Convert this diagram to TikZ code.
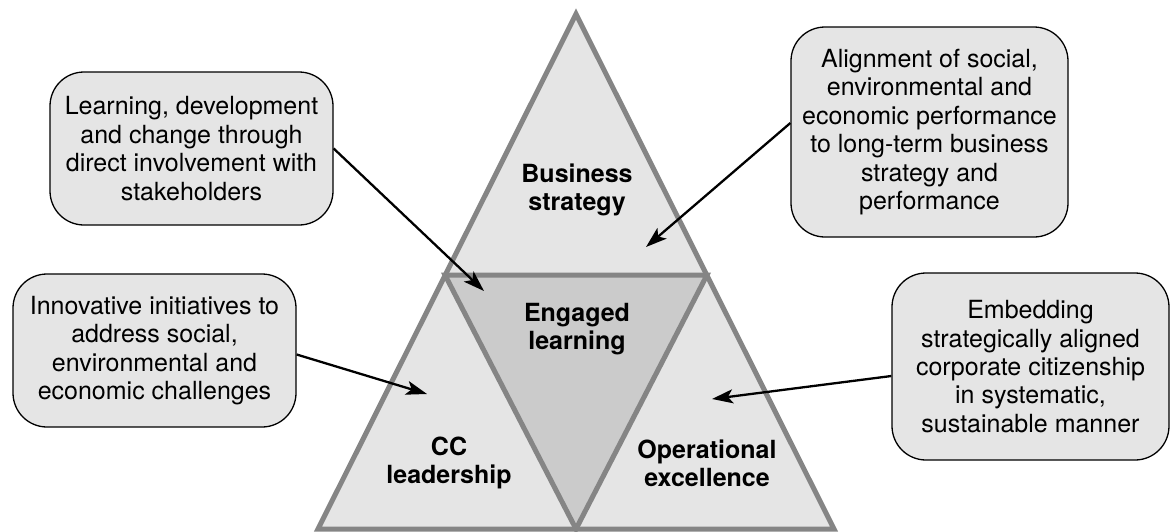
\documentclass[tikz,border=0pt]{standalone}
\usepackage{fontspec}
\setmainfont{TeX Gyre Heros}
\usetikzlibrary{arrows.meta}
\definecolor{panel}{HTML}{E5E5E5}
\definecolor{core}{HTML}{CBCBCB}
\definecolor{edge}{HTML}{858585}
\begin{document}
\begin{tikzpicture}[x=1pt,y=-1pt,
  note/.style={draw=black, line width=1.3pt, fill=panel, rounded corners=34pt,
    align=center, inner sep=0pt, font=\fontsize{25}{28.4}\selectfont},
  zone/.style={align=center, inner sep=0pt, font=\fontsize{25}{28.4}\selectfont\bfseries},
  facet/.style={draw=edge, line width=5pt, line join=miter},
  link/.style={draw=black, line width=2.3pt, -{Stealth[length=21pt, width=14pt, inset=5pt]}}]
\useasboundingbox (0,0) rectangle (1171,531);

% outer pyramid and the inverted core triangle
\coordinate (apex) at (576,14);
\coordinate (bl) at (318,529);
\coordinate (br) at (834,529);
\coordinate (ml) at (445,275);
\coordinate (mr) at (707,275);
\coordinate (mb) at (576,529);
\filldraw[facet, fill=panel] (apex) -- (br) -- (bl) -- cycle;
\filldraw[facet, fill=core] (ml) -- (mr) -- (mb) -- cycle;

% segment labels
\node[zone] (biz) at (577,190) {Business\\strategy};
\node[zone] (eng) at (577,329) {Engaged\\learning};
\node[zone] (ccl) at (449,463) {CC\\leadership};
\node[zone] (opx) at (707,463) {Operational\\excellence};

% explanatory notes
\node[note, minimum width=283pt, minimum height=153pt] (n1) at (191.5,148.5)
  {Learning, development\\and change through\\direct involvement with\\stakeholders};
\node[note, minimum width=283pt, minimum height=153pt] (n2) at (154.5,350.5)
  {Innovative initiatives to\\address social,\\environmental and\\economic challenges};
\node[note, minimum width=277pt, minimum height=210pt] (n3) at (929.5,132)
  {Alignment of social,\\environmental and\\economic performance\\to long-term business\\strategy and\\performance};
\node[note, minimum width=277pt, minimum height=187pt] (n4) at (1030.5,366.5)
  {Embedding\\strategically aligned\\corporate citizenship\\in systematic,\\sustainable manner};

% arrow targets inside the pyramid
\coordinate (t1) at (484,291);
\coordinate (t2) at (646,247);
\coordinate (t3) at (427,394);
\coordinate (t4) at (712,399);

\draw[link] (n1.east) -- (t1);
\draw[link] ([yshift=-4pt]n2.east) -- (t3);
\draw[link] ([yshift=9pt]n3.west) -- (t2);
\draw[link] ([yshift=-9.5pt]n4.west) -- (t4);
\end{tikzpicture}
\end{document}
